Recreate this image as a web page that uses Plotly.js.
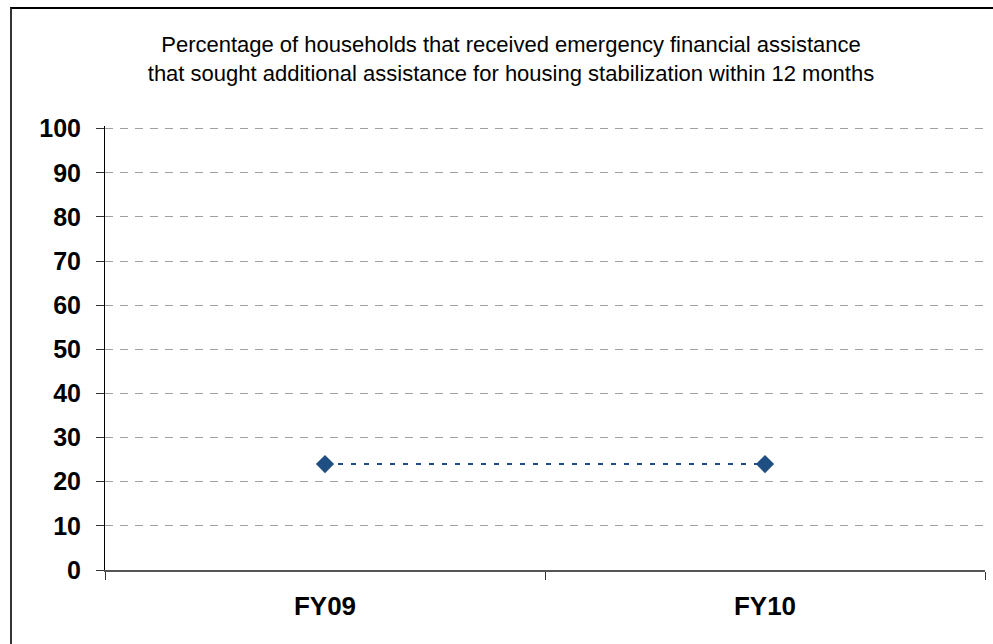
<!DOCTYPE html>
<html>
<head>
<meta charset="utf-8">
<script src="https://cdn.plot.ly/plotly-3.0.1.min.js"></script>
<style>
  html, body { margin: 0; padding: 0; background: #ffffff; }
  #wrap { position: relative; width: 993px; height: 644px; overflow: hidden; }
  #chart { position: absolute; left: 0; top: 0; width: 993px; height: 644px; }
  #frame {
    position: absolute; left: 10px; top: 7px; width: 1100px; height: 700px;
    border-left: 2px solid #333; border-top: 2px solid #000;
    pointer-events: none; box-sizing: border-box;
  }
</style>
</head>
<body>
<div id="wrap">
  <div id="chart"></div>
  <div id="frame"></div>
</div>
<script>
// Fiscal years and share (%) of assisted households returning for housing help
const years = ["FY09", "FY10"];
const pctSoughtMore = [24, 24];
const yTicks = [0, 10, 20, 30, 40, 50, 60, 70, 80, 90, 100];
const chartTitle = "Percentage of households that received emergency financial assistance<br>that sought additional assistance for housing stabilization within 12 months";

const trace = {
  x: years,
  y: pctSoughtMore,
  type: "scatter",
  mode: "lines+markers",
  line: { color: "#1F4E82", width: 2, dash: "5px,8px" },
  marker: { symbol: "diamond", size: 14, color: "#1F4E82" },
  hoverinfo: "x+y"
};

const layout = {
  width: 993,
  height: 644,
  margin: { l: 105, r: 8, t: 126.4, b: 74 },
  paper_bgcolor: "#ffffff",
  plot_bgcolor: "#ffffff",
  showlegend: false,
  title: {
    text: chartTitle,
    font: { family: "Arial, Liberation Sans, sans-serif", size: 22, color: "#000" },
    xref: "container", x: 511 / 993, xanchor: "center",
    yref: "container", y: 1 - 52 / 644, yanchor: "top"
  },
  xaxis: {
    type: "category",
    range: [-0.5, 1.5],
    tickson: "boundaries",
    ticks: "outside",
    ticklen: 8,
    tickcolor: "#333",
    tickwidth: 1,
    showline: true,
    linecolor: "#555",
    linewidth: 1.5,
    showgrid: false,
    zeroline: false,
    ticklabelstandoff: 12,
    tickfont: { family: "Arial, Liberation Sans, sans-serif", size: 26, color: "#000", weight: "bold" }
  },
  yaxis: {
    range: [0, 100.6],
    tickmode: "array",
    tickvals: yTicks,
    ticktext: yTicks.map(String),
    ticks: "outside",
    ticklen: 8,
    tickcolor: "#333",
    tickwidth: 1,
    showline: true,
    linecolor: "#000",
    linewidth: 1,
    showgrid: true,
    gridcolor: "#a0a0a0",
    gridwidth: 1,
    griddash: "8px,7px",
    zeroline: false,
    ticklabelstandoff: 10,
    tickfont: { family: "Arial, Liberation Sans, sans-serif", size: 25, color: "#000", weight: "bold" }
  }
};

Plotly.newPlot("chart", [trace], layout, { displayModeBar: false, staticPlot: true });
</script>
</body>
</html>
